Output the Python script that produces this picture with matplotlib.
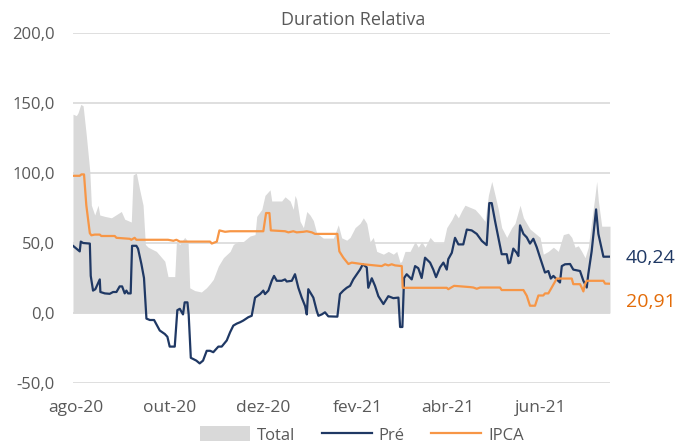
import matplotlib
matplotlib.use("Agg")
import matplotlib.pyplot as plt
import pandas as pd
from matplotlib.patches import Patch
from matplotlib.lines import Line2D

plt.rcParams['font.family'] = ['Open Sans', 'DejaVu Sans']

START = pd.Timestamp('2020-08-01')

# ---- data (x = days since 2020-08-01) ----
total_days = [-2.0, 0.2, 1.3, 3.1, 4.6, 6.7, 9.0, 10.0, 12.2, 14.4, 15.5, 18.8, 23.1, 29.6, 31.8,
              36.1, 37.3, 39.4, 41.6, 43.8, 45.3, 47.1, 52.5, 58.0, 60.1, 64.5, 65.6, 67.8, 71.0,
              73.2, 74.3, 77.6, 81.9, 85.2, 87.6, 89.7, 93.0, 96.3, 100.7, 102.8, 106.1, 109.3,
              113.7, 117.0, 118.1, 121.4, 123.5, 126.8, 127.9, 134.4, 136.6, 139.9, 142.0, 143.1,
              144.2, 146.4, 148.6, 150.8, 152.9, 155.1, 157.3, 161.6, 168.2, 171.4, 173.6, 176.9,
              179.1, 182.4, 185.6, 187.8, 190.0, 192.2, 194.3, 196.5, 200.9, 204.1, 207.4, 209.6,
              211.8, 212.9, 215.0, 218.3, 221.6, 223.7, 225.9, 228.1, 231.4, 234.6, 240.1, 242.3,
              245.6, 247.7, 249.9, 252.1, 254.2, 256.4, 260.8, 264.1, 267.3, 269.5, 271.7, 273.9,
              276.0, 278.2, 281.5, 284.8, 286.9, 290.2, 292.4, 296.7, 300.0, 303.3, 305.4, 308.7,
              312.0, 315.2, 318.5, 321.8, 324.0, 326.1, 328.3, 330.5, 332.7, 334.8, 337.0, 339.2,
              340.3, 341.4, 343.6, 349.0]
total_vals = [142, 141, 143, 149, 148, 127, 101, 77, 70, 77, 70, 69, 68, 72.5, 67,
              65, 98.6, 100, 88, 77, 49, 47, 44, 37, 26, 26, 51, 49, 54,
              51, 18, 16, 15, 18, 21, 24, 33.5, 39.5, 44, 49, 51, 51,
              55, 56, 69, 74, 84, 88, 80, 80, 83, 80, 74, 84,
              81, 65.5, 61, 72.5, 70, 66, 57, 53.5, 53.5, 63, 53.7, 52,
              54, 61, 64, 68, 64, 51, 54, 44, 42, 44, 42, 44,
              36, 37, 44, 44, 51, 47, 51, 47, 54, 50, 50, 61,
              66.7, 71.4, 68, 73, 77, 76, 74, 70, 65.5, 84, 94, 84,
              74, 61, 54, 61, 64, 77, 68, 60, 57, 54, 42, 44,
              47, 44, 56, 57, 54, 47, 48, 44, 39.5, 47, 65.5, 84,
              94, 80, 62, 62]

pre_days = [-2.0, 2.4, 3.1, 4.6, 9.0, 9.6, 11.1, 12.6, 15.5, 15.9, 18.8, 22.0, 24.2, 26.4, 28.5,
            30.1, 31.8, 32.9, 34.0, 35.7, 36.6, 39.4, 40.5, 42.7, 44.4, 46.0, 48.2, 51.0, 52.5,
            54.7, 58.0, 59.7, 61.2, 64.5, 66.2, 67.8, 69.9, 71.0, 72.8, 73.6, 75.0, 78.6, 80.8,
            83.0, 85.4, 87.6, 89.7, 93.0, 95.2, 98.5, 100.7, 102.8, 105.0, 107.2, 109.3, 112.6,
            114.8, 117.0, 120.3, 122.4, 123.5, 125.7, 127.9, 129.4, 131.2, 134.4, 136.6, 137.7,
            141.0, 143.1, 145.3, 147.5, 149.7, 150.8, 151.8, 155.1, 157.3, 158.4, 160.6, 162.7,
            164.9, 170.8, 172.5, 174.7, 176.9, 179.1, 181.2, 183.5, 185.6, 187.4, 190.0, 191.0,
            193.3, 195.4, 197.6, 200.9, 204.1, 207.4, 210.7, 211.8, 213.3, 214.4, 216.1, 219.4,
            221.6, 223.7, 225.9, 228.1, 231.4, 233.5, 235.3, 237.9, 240.1, 242.3, 243.3, 245.6,
            247.7, 249.9, 253.1, 255.4, 258.6, 261.9, 265.2, 268.4, 270.1, 271.7, 273.9, 276.0,
            278.2, 281.5, 282.6, 283.7, 285.8, 288.0, 289.1, 290.2, 292.4, 294.6, 296.7, 298.9,
            301.1, 303.3, 306.5, 308.7, 310.3, 312.0, 314.2, 316.3, 317.5, 319.6, 322.9, 325.0,
            329.4, 331.6, 333.8, 334.8, 337.0, 339.9, 341.4, 344.7, 349.0]
pre_vals = [48, 44, 51, 50, 49.6, 26.5, 16, 17, 24, 15, 14, 13.7, 15, 15, 19,
            19, 14, 16, 14, 14, 48, 48, 46, 35, 25, -4, -5, -5, -8,
            -12.5, -15, -17, -24, -24, 2, 3, -1, 7.6, 7.6, -1, -32, -34, -36,
            -34, -27, -27, -28, -24, -24, -19.6, -13.7, -9, -7.6, -6.6, -5.4, -3,
            -2, 11, 13.5, 16, 13.5, 16, 23, 26.5, 23, 23, 24, 22.5,
            23, 27.7, 18, 11, 5, -1, 17, 11, 1.6, -2, -1, 0.5,
            -2.4, -2.6, 13.5, 16, 18, 19.4, 24, 27.7, 31, 34.8, 32.6, 18,
            24.8, 19.4, 12, 6.4, 12, 10.6, 11, -10, -10, 25, 27.7, 24,
            33.5, 32, 25, 39.5, 36, 31, 25.6, 32.6, 36, 31, 38.5, 43,
            53.7, 49, 49, 59.6, 59, 56.5, 51.5, 48.5, 78.5, 78.5, 65.5, 54,
            42, 42, 35.5, 36, 46, 43, 40.7, 62.6, 56.5, 54, 49.6, 53,
            47, 39.5, 28.9, 30, 24.6, 26.5, 24, 21.8, 33.5, 34.8, 35, 31,
            30, 23, 18.2, 27.7, 44, 74, 56.5, 40.2, 40.24]

ipca_days = [-2.0, 2.4, 3.5, 5.2, 6.7, 9.0, 10.0, 12.2, 15.5, 16.5, 25.3, 26.4, 35.1, 36.1,
             38.3, 39.4, 60.1, 63.6, 65.6, 67.8, 85.0, 87.6, 88.7, 92.0, 93.7, 97.4, 100.7,
             122.4, 124.2, 126.4, 127.3, 136.6, 138.8, 142.0, 144.2, 148.6, 150.8, 154.1,
             156.2, 170.8, 172.1, 174.7, 178.0, 180.2, 187.8, 199.8, 202.0, 204.1, 206.3,
             208.5, 212.9, 213.5, 242.3, 243.3, 247.1, 257.5, 259.7, 261.9, 264.1, 277.1,
             278.2, 292.4, 294.6, 296.7, 300.0, 302.2, 305.4, 306.5, 308.7, 310.9, 314.2,
             324.0, 325.0, 329.4, 330.5, 331.6, 332.7, 333.8, 344.7, 345.8, 349.0]
ipca_vals = [98, 98, 99, 99, 77, 57, 55.5, 56, 56, 55, 55, 53.7, 53, 52.3,
             53.7, 52.3, 52.3, 51.6, 52.3, 51, 51, 51, 49.6, 51, 59, 58, 58.4,
             58.4, 71.4, 71.4, 59, 58.4, 57.6, 58.4, 57.6, 58, 58.4, 57.6,
             56.5, 56.5, 44, 39.5, 35, 36, 34.8, 33.5, 34.8, 34, 34.8,
             34, 33.5, 18, 18, 17, 19.4, 18.5, 18.2, 17.3, 18.2, 18.2,
             16.4, 16.4, 12.3, 5.2, 5.2, 12.5, 12.5, 14, 14, 18.2, 24.6,
             24.6, 20.6, 20.6, 18.2, 15.4, 20.6, 23, 23, 21, 20.91]

tick_dates = ['2020-08-01', '2020-10-01', '2020-12-01', '2021-02-01', '2021-04-01', '2021-06-01']
tick_labels = ['ago-20', 'out-20', 'dez-20', 'fev-21', 'abr-21', 'jun-21']
y_ticks = [-50, 0, 50, 100, 150, 200]
y_labels = ['-50,0', '0,0', '50,0', '100,0', '150,0', '200,0']
last_pre_label = '40,24'
last_ipca_label = '20,91'
title = 'Duration Relativa'

def to_dates(days):
    return START + pd.to_timedelta(days, unit='D')

C_AREA = '#d9d9d9'
C_PRE = '#1f3864'
C_IPCA = '#f79646'
C_IPCA_TXT = '#e36c09'
C_TXT = '#595959'

fig = plt.figure(figsize=(6.8, 4.45), dpi=100)
ax = fig.add_axes([73/680, 1-383/445, (610-73)/680, (383-33)/445])

ax.fill_between(to_dates(total_days), 0, total_vals, color=C_AREA, lw=0, zorder=1)
ax.plot(to_dates(pre_days), pre_vals, color=C_PRE, lw=1.6, zorder=3)
ax.plot(to_dates(ipca_days), ipca_vals, color=C_IPCA, lw=1.6, zorder=3)

ax.set_ylim(-50, 200)
ax.set_xlim(to_dates([total_days[0]])[0], to_dates([total_days[-1]])[0])
ax.set_yticks(y_ticks)
ax.set_yticklabels(y_labels)
ax.set_xticks(pd.to_datetime(tick_dates))
ax.set_xticklabels(tick_labels)
ax.tick_params(length=0, labelcolor=C_TXT)
ax.tick_params(axis='y', pad=13, labelsize=12)
ax.tick_params(axis='x', pad=12, labelsize=12.5)
ax.grid(axis='y', color=C_AREA, lw=1.2, zorder=0)
ax.set_axisbelow(True)
for s in ax.spines.values():
    s.set_visible(False)

fig.text(353/680, 1-20/445, title, ha='center', va='center', fontsize=13, color=C_TXT)
fig.text(651/680, 1-258/445, last_pre_label, ha='center', va='center', fontsize=14, color=C_PRE)
fig.text(651/680, 1-302/445, last_ipca_label, ha='center', va='center', fontsize=14, color=C_IPCA_TXT)

handles = [Patch(facecolor=C_AREA, edgecolor='none'),
           Line2D([0], [0], color=C_PRE, lw=1.6),
           Line2D([0], [0], color=C_IPCA, lw=1.6)]
fig.legend(handles, ['Total', 'Pré', 'IPCA'], loc='center', bbox_to_anchor=(362/680, 1-435/445),
           ncol=3, frameon=False, fontsize=12, labelcolor=C_TXT, handlelength=3.0,
           handleheight=1.0, columnspacing=1.6, handletextpad=0.4, borderpad=0.1)

fig.savefig('out.png', dpi=100)
